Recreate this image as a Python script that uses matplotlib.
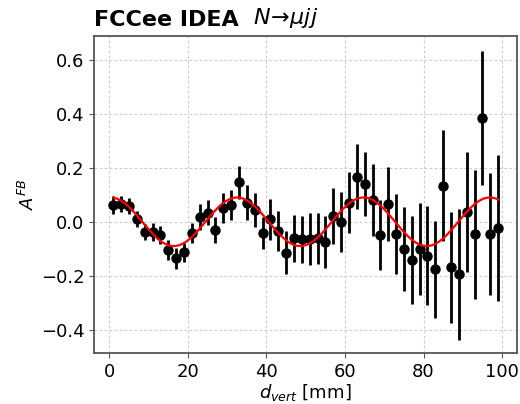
import numpy as np
import matplotlib
matplotlib.use("Agg")
import matplotlib.pyplot as plt

d_vert = [1, 3, 5, 7, 9, 11, 13, 15, 17, 19, 21, 23, 25, 27, 29, 31, 33, 35, 37, 39,
          41, 43, 45, 47, 49, 51, 53, 55, 57, 59, 61, 63, 65, 67, 69, 71, 73, 75, 77, 79,
          81, 83, 85, 87, 89, 91, 93, 95, 97, 99]
afb = [0.064, 0.068, 0.060, 0.011, -0.035, -0.035, -0.047, -0.103, -0.134, -0.111,
       -0.039, 0.019, 0.036, -0.029, 0.052, 0.064, 0.148, 0.073, 0.046, -0.041,
       0.011, -0.031, -0.113, -0.059, -0.063, -0.063, -0.059, -0.072, 0.023, 0.002,
       0.073, 0.169, 0.142, 0.083, -0.047, 0.068, -0.043, -0.099, -0.140, -0.100,
       -0.124, -0.175, 0.136, -0.167, -0.192, 0.039, -0.045, 0.388, -0.043, -0.022]
afb_err = [0.032, 0.030, 0.030, 0.030, 0.030, 0.034, 0.034, 0.037, 0.038, 0.035,
           0.038, 0.048, 0.046, 0.048, 0.056, 0.056, 0.060, 0.065, 0.062, 0.059,
           0.075, 0.074, 0.080, 0.087, 0.088, 0.096, 0.095, 0.096, 0.104, 0.112,
           0.112, 0.120, 0.120, 0.134, 0.130, 0.136, 0.148, 0.155, 0.163, 0.170,
           0.184, 0.181, 0.206, 0.206, 0.243, 0.222, 0.240, 0.248, 0.225, 0.271]

# fit parameters (A*cos(2*pi*(x - x0)/T) + c)
fit_amp = 0.090
fit_period = 32.2
fit_x0 = 0.3
fit_offset = 0.002

fig = plt.figure(figsize=(5.2, 4.04), dpi=100)
ax = fig.add_axes([0.181, 0.126, 0.814, 0.785])

ax.errorbar(d_vert, afb, yerr=afb_err, fmt='o', color='black', ms=6.5,
            elinewidth=2, capsize=0, zorder=3)
xf = np.linspace(min(d_vert), max(d_vert), 400)
yf = fit_amp * np.cos(2 * np.pi * (xf - fit_x0) / fit_period) + fit_offset
ax.plot(xf, yf, color='red', lw=1.6, zorder=4)

ax.set_xlim(-3.9, 103.9)
ax.set_ylim(-0.485, 0.691)
ax.set_xticks([0, 20, 40, 60, 80, 100])
ax.set_yticks([-0.4, -0.2, 0.0, 0.2, 0.4, 0.6])
ax.grid(True, linestyle=(0, (2.5, 2)), color='#cccccc', lw=0.8)
ax.set_axisbelow(True)
for s in ax.spines.values():
    s.set_color('#555555')
    s.set_linewidth(1.3)
ax.tick_params(labelsize=13, color='#555555')
ax.set_xlabel(r'$d_{vert}$ [mm]', fontsize=13, labelpad=1)
ax.set_ylabel(r'$A^{FB}$', fontsize=13, labelpad=2)

ax.text(0.0, 1.02, 'FCCee IDEA', transform=ax.transAxes, fontsize=16,
        fontweight='bold', ha='left', va='bottom')
ax.text(0.375, 1.02, r'$N\!\to\!\mu jj$', transform=ax.transAxes, fontsize=16,
        ha='left', va='bottom')

fig.savefig('out.png', dpi=100)
